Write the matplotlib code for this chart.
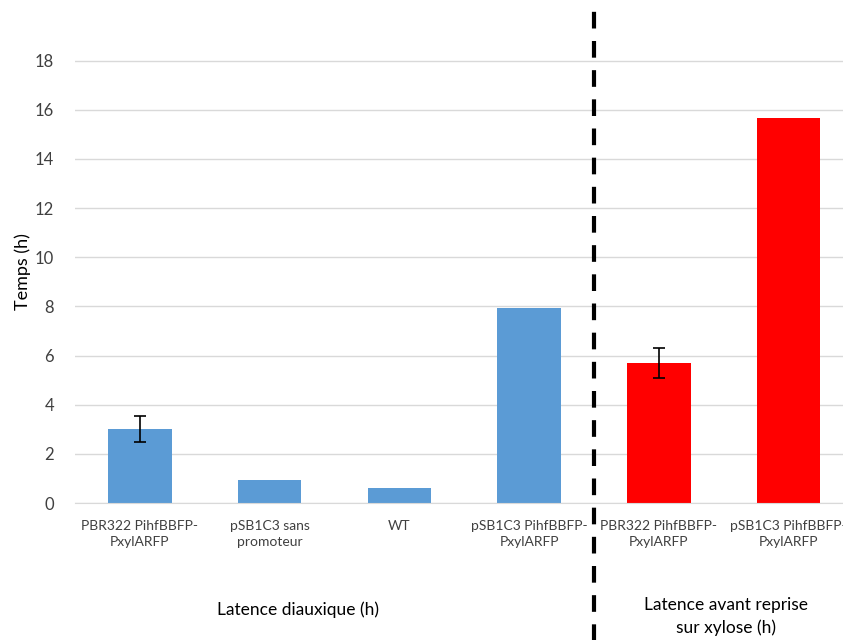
import matplotlib.pyplot as plt
from matplotlib.transforms import blended_transform_factory

plt.rcParams['font.family'] = ['Lato', 'DejaVu Sans']

categories = ['PBR322 PihfBBFP-\nPxylARFP', 'pSB1C3 sans\npromoteur', 'WT',
              'pSB1C3 PihfBBFP-\nPxylARFP', 'PBR322 PihfBBFP-\nPxylARFP',
              'pSB1C3 PihfBBFP-\nPxylARFP']
values = [3.0, 0.95, 0.62, 7.95, 5.7, 15.65]
errors = [0.52, 0, 0, 0, 0.6, 0]
colors = ['#5B9BD5'] * 4 + ['#FF0000'] * 2
group_labels = ['Latence diauxique (h)', 'Latence avant reprise\nsur xylose (h)']

fig = plt.figure(figsize=(8.43, 6.4), dpi=100)
ax = fig.add_axes([75 / 843, 137 / 640, 768 / 843, 462 / 640])

x = list(range(len(values)))
ax.bar(x, values, width=0.49, color=colors, zorder=2)
for xi, v, e in zip(x, values, errors):
    if e > 0:
        ax.errorbar(xi, v, yerr=e, color='black', capsize=4, elinewidth=1.2,
                    capthick=1.2, zorder=3)

ax.set_xlim(-0.5, 5.42)
ax.set_ylim(0, 18.8)
ax.set_yticks(range(0, 19, 2))
ax.yaxis.grid(True, color='#D9D9D9', linewidth=1)
ax.set_axisbelow(True)
for s in ['top', 'right', 'left']:
    ax.spines[s].set_visible(False)
ax.spines['bottom'].set_color('#D9D9D9')
ax.tick_params(axis='both', length=0, colors='#404040')
ax.tick_params(axis='y', pad=15, labelsize=12)
ax.tick_params(axis='x', pad=12, labelsize=10)
ax.set_xticks(x)
ax.set_xticklabels(categories, linespacing=1.45)
ax.set_ylabel('Temps (h)', fontsize=13, color='black')
ax.yaxis.set_label_coords(-0.057, 0.5)

# separator between the two groups
trans = blended_transform_factory(ax.transData, ax.transAxes)
ax.plot([3.5, 3.5], [-0.3, 1.07], transform=trans, color='black', linewidth=3,
        linestyle=(0, (4, 3)), clip_on=False)

ax.text(1.22, -0.232, group_labels[0], transform=trans, ha='center', va='center',
        fontsize=12.5)
ax.text(4.52, -0.246, group_labels[1], transform=trans, ha='center', va='center',
        fontsize=12.5, linespacing=1.45)

fig.savefig('out.png', dpi=100)
